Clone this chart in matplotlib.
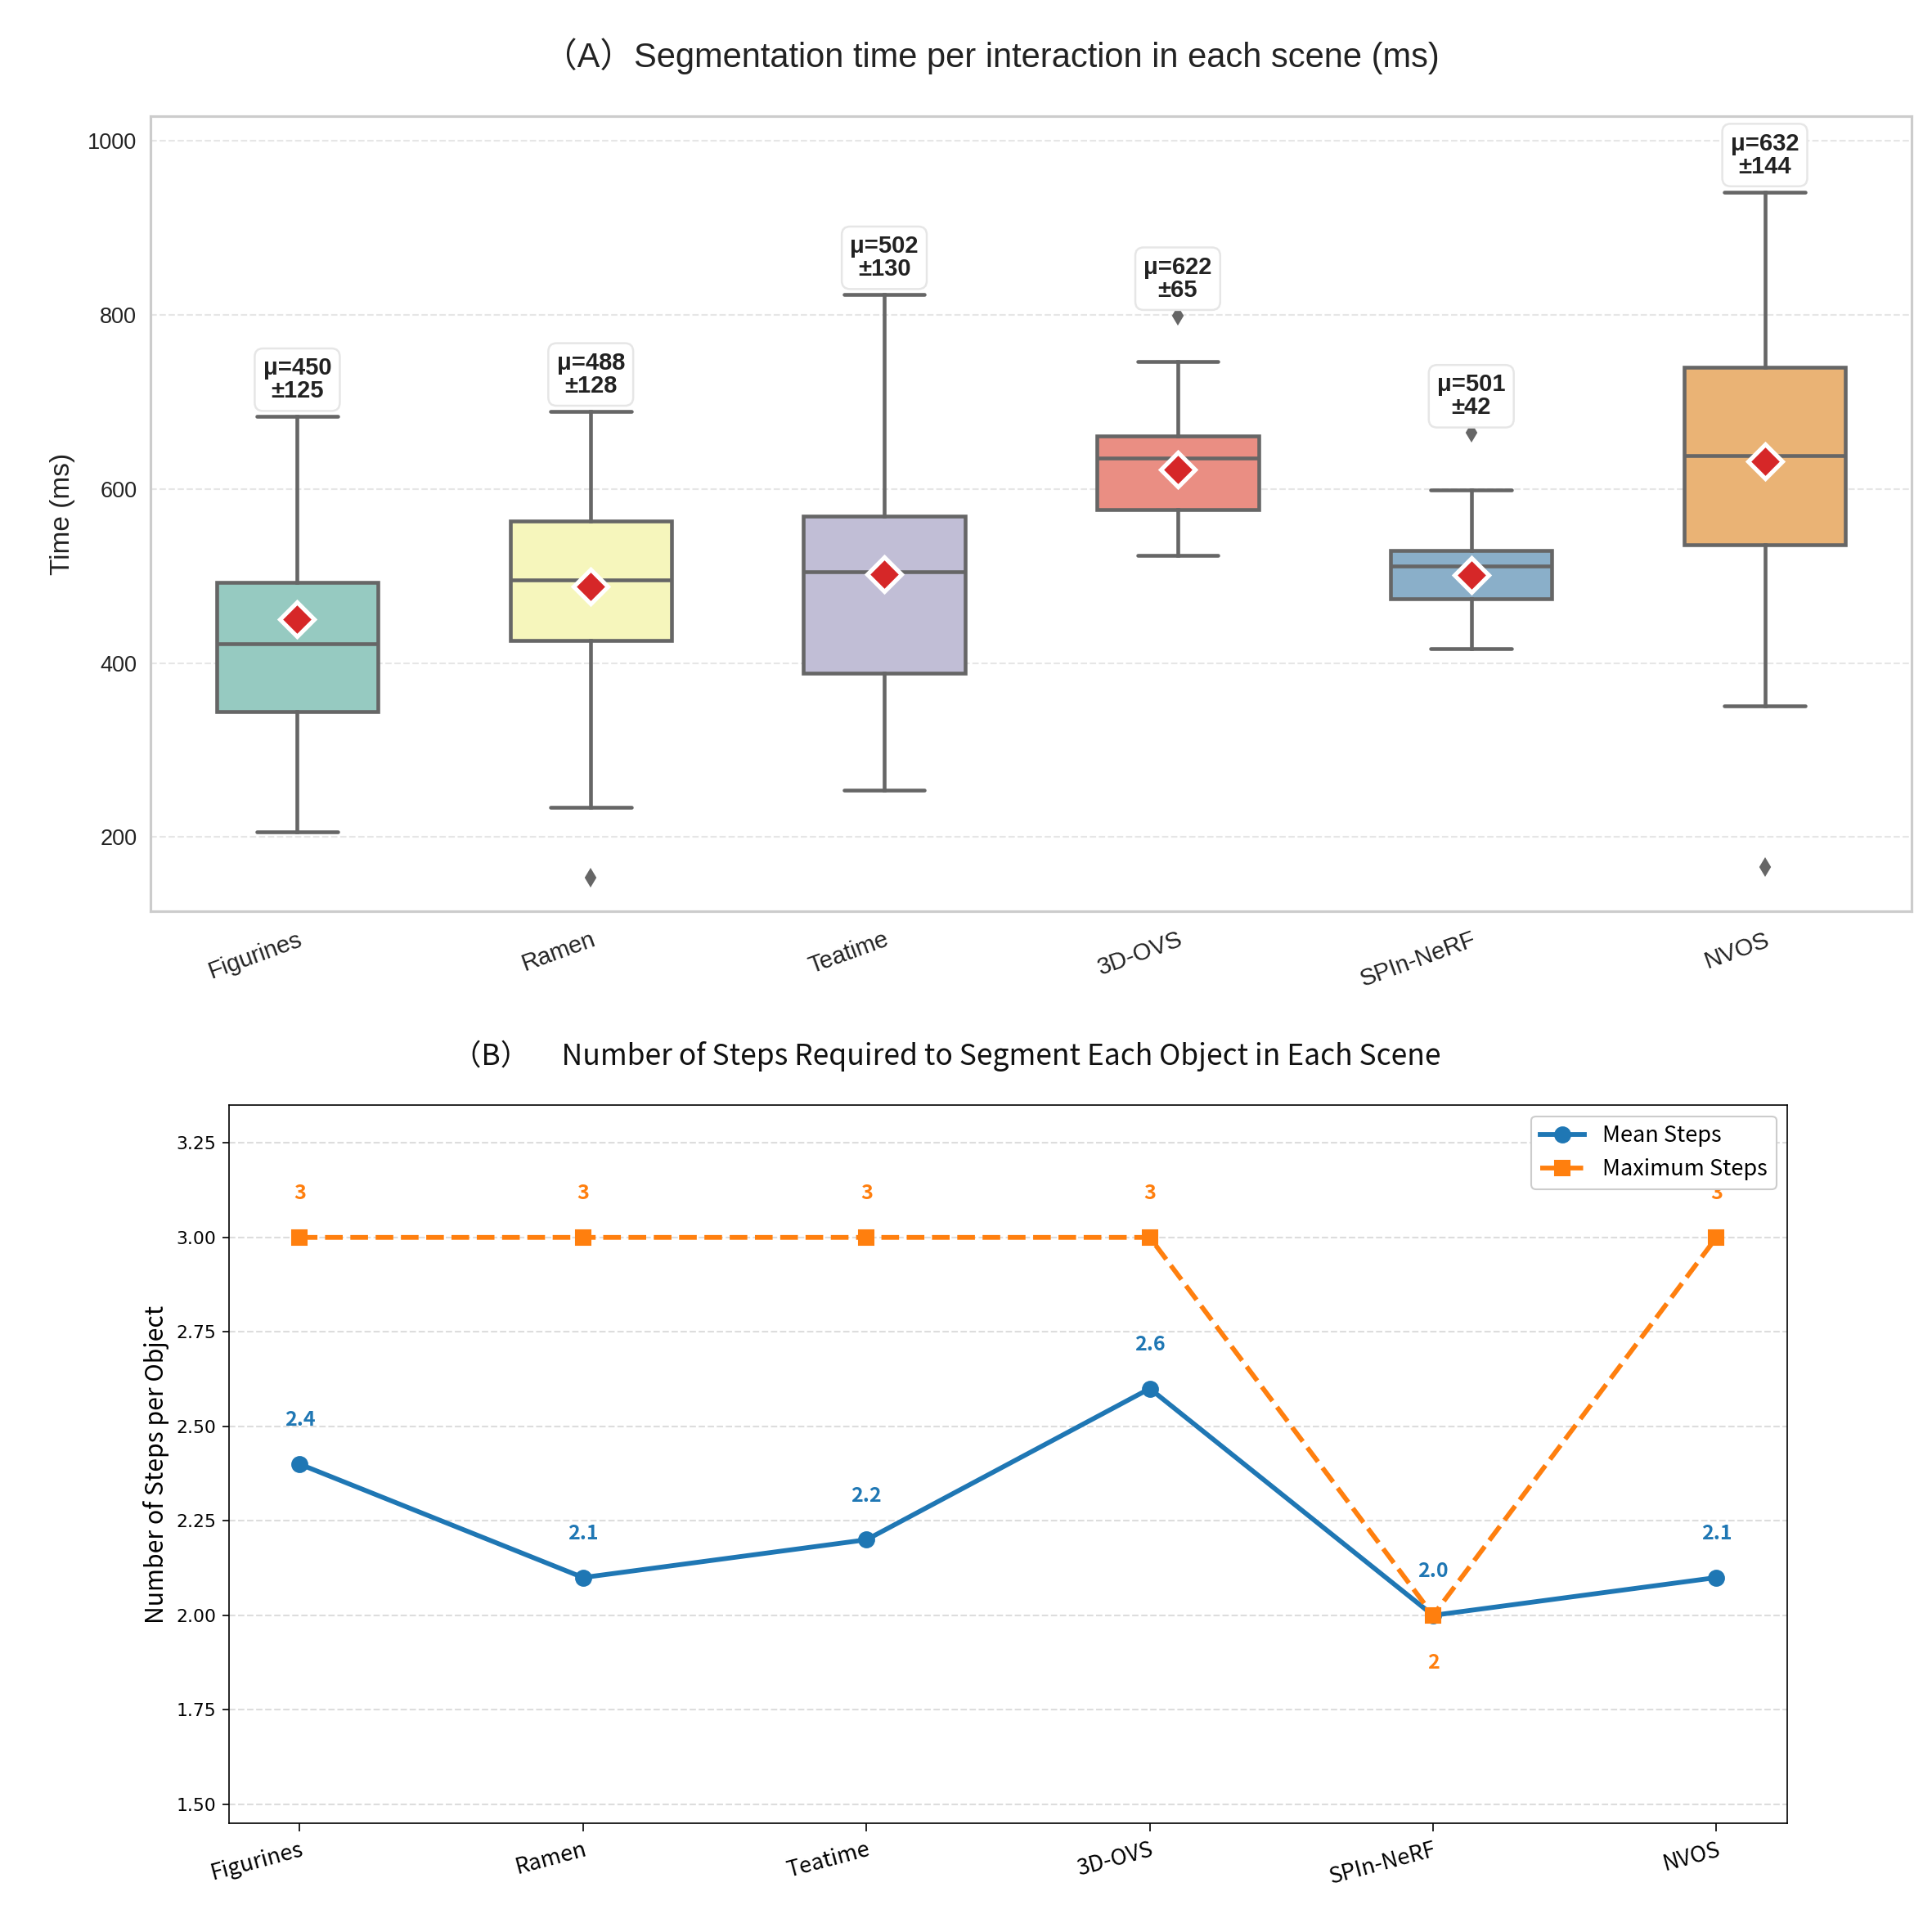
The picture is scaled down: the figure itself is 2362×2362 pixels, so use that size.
import matplotlib
matplotlib.use("Agg")
import matplotlib.pyplot as plt
import numpy as np
import seaborn as sns

scenes = ["Figurines", "Ramen", "Teatime", "3D-OVS", "SPIn-NeRF", "NVOS"]

# box statistics (ms)
whisker_low = [206, 234, 254, 524, 416, 351]
q1 = [344, 426, 388, 576, 474, 536]
median = [422, 495, 505, 635, 511, 638]
q3 = [493, 563, 569, 661, 529, 740]
whisker_high = [683, 689, 823, 746, 599, 941]
outliers = [[], [153], [], [799], [664], [166]]
mean_time = [450, 488, 502, 622, 501, 632]
std_time = [125, 128, 130, 65, 42, 144]

# panel B
mean_steps = [2.4, 2.1, 2.2, 2.6, 2.0, 2.1]
max_steps = [3, 3, 3, 3, 2, 3]

set3 = ["#8dd3c7", "#ffffb3", "#bebada", "#fb8072", "#80b1d3", "#fdb462"]
box_colors = [sns.desaturate(c, 0.75) for c in set3]
line_gray = "#666666"

fig = plt.figure(figsize=(2362 / 150, 2362 / 150), dpi=150)

# ---------- panel A ----------
ax1 = fig.add_axes([0.0779, 0.5284, 0.9115, 0.4115])
stats = []
for i in range(len(scenes)):
    stats.append(dict(med=median[i], q1=q1[i], q3=q3[i], whislo=whisker_low[i],
                      whishi=whisker_high[i], fliers=outliers[i], mean=mean_time[i]))
bp = ax1.bxp(stats, positions=np.arange(len(scenes)), widths=0.55, patch_artist=True,
             showmeans=True, showfliers=True,
             boxprops=dict(edgecolor=line_gray, linewidth=2.2),
             medianprops=dict(color=line_gray, linewidth=2.2),
             whiskerprops=dict(color=line_gray, linewidth=2.2),
             capprops=dict(color=line_gray, linewidth=2.2),
             flierprops=dict(marker="d", markerfacecolor=line_gray, markeredgecolor=line_gray,
                             markersize=7),
             meanprops=dict(marker="D", markerfacecolor="#d62728", markeredgecolor="white",
                            markeredgewidth=2.5, markersize=14))
for patch, c in zip(bp["boxes"], box_colors):
    patch.set_facecolor(c)
for cap in bp["caps"]:
    cap.set_solid_capstyle("round")

for i in range(len(scenes)):
    top = max([whisker_high[i]] + outliers[i])
    ax1.text(i, top + 16, f"μ={mean_time[i]}\n±{std_time[i]}", ha="center", va="bottom",
             fontsize=14, fontweight="bold", color="#222222", family="Liberation Sans",
             linespacing=1.0,
             bbox=dict(boxstyle="round,pad=0.35", fc="white", ec="#e6e6e6", lw=1.2))

ax1.set_xlim(-0.5, 5.5)
ax1.set_ylim(115, 1028)
ax1.set_yticks([200, 400, 600, 800, 1000])
ax1.set_xticks(np.arange(len(scenes)))
ax1.set_xticklabels(scenes, rotation=20, ha="right", rotation_mode="anchor", fontsize=14,
                    family="Liberation Sans", color="#222222")
for lab in ax1.get_yticklabels():
    lab.set_family("Liberation Sans")
ax1.tick_params(axis="y", length=0, labelsize=13, labelcolor="#222222", pad=8)
ax1.tick_params(axis="x", length=0, pad=10)
ax1.yaxis.grid(True, linestyle="--", color="#e6e6e6", linewidth=1)
ax1.set_axisbelow(True)
for s in ax1.spines.values():
    s.set_color("#cccccc")
    s.set_linewidth(1.5)
ax1.set_ylabel("Time (ms)", fontsize=16, family="Liberation Sans", color="#222222", labelpad=7)

fig.text(0.513, 0.9708, "（A）Segmentation time per interaction in each scene (ms)",
         ha="center", va="center", fontsize=20,
         family=["Liberation Sans", "Noto Sans CJK SC"], color="#222222")

# ---------- panel B ----------
ax2 = fig.add_axes([0.1185, 0.0563, 0.8066, 0.3717])
x = np.arange(len(scenes))
blue = "#1f77b4"
orange = "#ff7f0e"
ax2.plot(x, mean_steps, color=blue, linestyle="-", marker="o", markersize=9, linewidth=2.8,
         label="Mean Steps")
ax2.plot(x, max_steps, color=orange, linestyle="--", marker="s", markersize=9, linewidth=2.8,
         label="Maximum Steps")

for i in range(len(scenes)):
    ax2.text(x[i], mean_steps[i] + 0.09, f"{mean_steps[i]:.1f}", ha="center", va="bottom",
             color=blue, fontsize=12, fontweight="bold", family="Noto Sans CJK SC")
    if max_steps[i] - mean_steps[i] > 0.2:
        ax2.text(x[i], max_steps[i] + 0.09, f"{max_steps[i]}", ha="center", va="bottom",
                 color=orange, fontsize=12, fontweight="bold", family="Noto Sans CJK SC")
    else:
        ax2.text(x[i], max_steps[i] - 0.1, f"{max_steps[i]}", ha="center", va="top",
                 color=orange, fontsize=12, fontweight="bold", family="Noto Sans CJK SC")

ax2.set_xlim(-0.25, 5.25)
ax2.set_ylim(1.45, 3.35)
ax2.set_yticks([1.5, 1.75, 2.0, 2.25, 2.5, 2.75, 3.0, 3.25])
ax2.set_yticklabels([f"{v:.2f}" for v in [1.5, 1.75, 2.0, 2.25, 2.5, 2.75, 3.0, 3.25]])
ax2.set_xticks(x)
ax2.set_xticklabels(scenes, rotation=15, ha="right", rotation_mode="anchor", fontsize=13,
                    family="Noto Sans CJK SC")
ax2.tick_params(axis="y", labelsize=10.5, length=4)
ax2.tick_params(axis="x", length=5, pad=4)
ax2.yaxis.grid(True, linestyle="--", color="#dddddd", linewidth=1)
ax2.set_axisbelow(True)
ax2.set_ylabel("Number of Steps per Object", fontsize=14.5, family="Noto Sans CJK SC")
leg = ax2.legend(loc="upper right", prop=dict(family="Noto Sans CJK SC", size=13),
                 framealpha=1, edgecolor="#cccccc")

fig.text(0.49, 0.4535, "（B）     Number of Steps Required to Segment Each Object in Each Scene",
         ha="center", va="center", fontsize=17, family="Noto Sans CJK SC", color="#111111")

fig.savefig("out.png", dpi=150)
